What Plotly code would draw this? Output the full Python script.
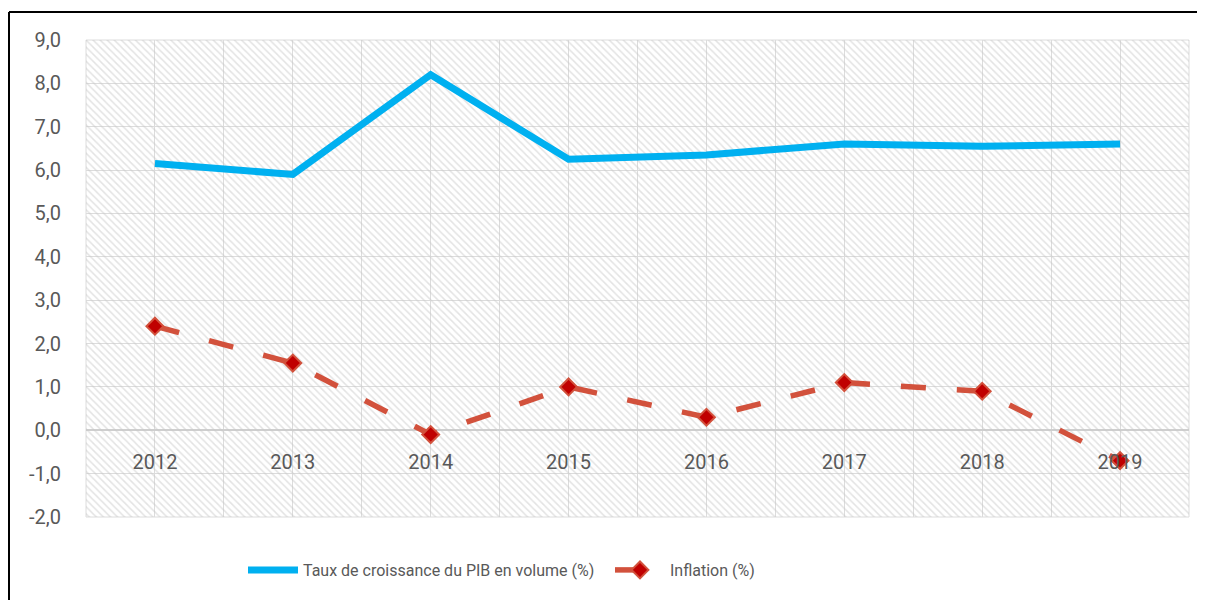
import plotly.graph_objects as go

years = ["2012", "2013", "2014", "2015", "2016", "2017", "2018", "2019"]
pib = [6.15, 5.9, 8.2, 6.25, 6.35, 6.6, 6.55, 6.6]
inflation = [2.4, 1.55, -0.1, 1.0, 0.3, 1.1, 0.9, -0.7]
y_ticks = [-2, -1, 0, 1, 2, 3, 4, 5, 6, 7, 8, 9]
y_ticktext = [f"{v:.1f}".replace(".", ",") for v in y_ticks]

pos = list(range(len(years)))
FONT = "Roboto, Liberation Sans, sans-serif"
TXT = "#595959"
GRID = "#dcdcdc"

# plot area (figure px): x 78..1181, y 32..509
L, T, W, H = 78, 32, 1103, 477

def px_x(x):
    return (x - L) / W

def px_y(y):
    return (T + H - y) / H

fig = go.Figure()

# hatched plot-area background (on hidden base axes)
fig.add_trace(go.Bar(
    x=[0.5], y=[1], width=[1], xaxis="x", yaxis="y",
    marker=dict(color="rgba(0,0,0,0)", line=dict(width=0),
                pattern=dict(shape="\\", size=5, solidity=0.3,
                             fgcolor="#c8c8c8", bgcolor="rgba(0,0,0,0)")),
    showlegend=False, hoverinfo="skip",
))

fig.add_trace(go.Scatter(
    x=pos, y=pib, xaxis="x2", yaxis="y2", mode="lines",
    name="Taux de croissance du PIB en volume (%)",
    line=dict(color="#00B0F0", width=7),
))
fig.add_trace(go.Scatter(
    x=pos, y=inflation, xaxis="x2", yaxis="y2", mode="lines+markers",
    name="Inflation (%)",
    line=dict(color="#D2513C", width=5.5, dash="25px,31px"),
    marker=dict(symbol="diamond", size=13, color="#C00000",
                line=dict(color="#D2513C", width=2)),
))

ymin, ymax = -2, 9
fig.update_layout(
    width=1205, height=600,
    margin=dict(l=L, r=1205 - L - W, t=T, b=600 - T - H),
    paper_bgcolor="white", plot_bgcolor="white",
    font=dict(family=FONT, size=20, color=TXT),
    xaxis=dict(range=[0, 1], visible=False, fixedrange=True),
    yaxis=dict(range=[0, 1], visible=False, fixedrange=True),
    xaxis2=dict(
        overlaying="x", anchor="free", position=(0 - ymin) / (ymax - ymin),
        range=[-0.5, len(years) - 0.5],
        tickmode="array", tickvals=pos, ticktext=years,
        showgrid=True, gridcolor=GRID, gridwidth=1,
        minor=dict(tickmode="linear", tick0=-0.5, dtick=1, showgrid=True,
                   gridcolor=GRID, gridwidth=1, ticks=""),
        showline=False, zeroline=False, ticks="",
        ticklabelstandoff=18,
        tickfont=dict(family=FONT, size=20, color=TXT),
    ),
    yaxis2=dict(
        overlaying="y", anchor="x2",
        range=[ymin, ymax],
        tickmode="array", tickvals=y_ticks, ticktext=y_ticktext,
        showgrid=True, gridcolor=GRID, gridwidth=1,
        zeroline=True, zerolinecolor="#cfcfcf", zerolinewidth=1.5,
        showline=False, ticks="",
        ticklabelstandoff=24,
        tickfont=dict(family=FONT, size=20, color=TXT),
    ),
    legend=dict(
        orientation="h", x=px_x(235), xanchor="left",
        y=px_y(562), yanchor="middle",
        font=dict(family=FONT, size=16, color=TXT),
        itemwidth=50, entrywidth=302, entrywidthmode="pixels",
        bgcolor="rgba(0,0,0,0)",
    ),
    shapes=[
        dict(type="rect", xref="paper", yref="paper", x0=0, x1=1, y0=0, y1=1,
             line=dict(color=GRID, width=1), layer="below"),
        dict(type="line", xref="paper", yref="paper",
             x0=px_x(1), x1=px_x(1210), y0=px_y(4), y1=px_y(4),
             line=dict(color="black", width=2)),
        dict(type="line", xref="paper", yref="paper",
             x0=px_x(1), x1=px_x(1), y0=px_y(4), y1=px_y(610),
             line=dict(color="black", width=2)),
    ],
    showlegend=True,
)

fig.write_html("out.html")
